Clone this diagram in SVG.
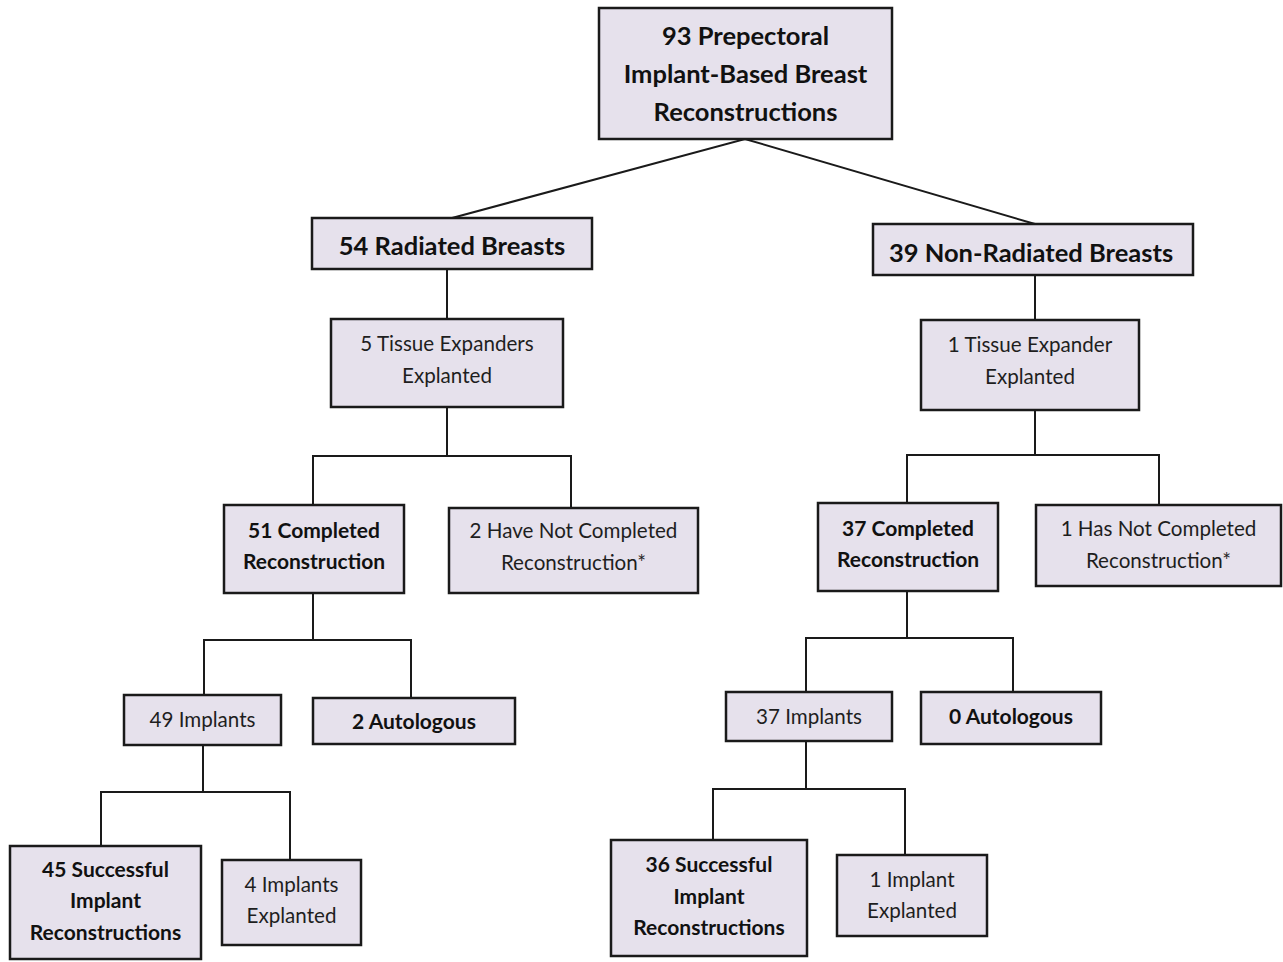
<svg xmlns="http://www.w3.org/2000/svg" width="1283" height="962" viewBox="0 0 1283 962">
<style>
.box{fill:#e6e1ec;stroke:#1a1a1a;stroke-width:2.5}
.b{font-family:Lato,"Liberation Sans",sans-serif;font-weight:bold;fill:#111;text-anchor:middle}
.r{font-family:Lato,"Liberation Sans",sans-serif;fill:#1e1e1e;text-anchor:middle}
.c{fill:none;stroke:#1a1a1a;stroke-width:2}
</style>
<rect width="1283" height="962" fill="#ffffff"/>
<g id="connectors">
<polyline class="c" points="452,218 745,139 1035,224"/>
<line class="c" x1="447" y1="269" x2="447" y2="319"/>
<line class="c" x1="1035" y1="275" x2="1035" y2="320"/>
<polyline class="c" points="447,407 447,456"/>
<polyline class="c" points="313,505 313,456 571,456 571,508"/>
<polyline class="c" points="1035,410 1035,455"/>
<polyline class="c" points="907,503 907,455 1159,455 1159,505"/>
<polyline class="c" points="313,593 313,640"/>
<polyline class="c" points="204,695 204,640 411,640 411,698"/>
<polyline class="c" points="907,591 907,638"/>
<polyline class="c" points="806,692 806,638 1013,638 1013,692"/>
<polyline class="c" points="203,745 203,792"/>
<polyline class="c" points="101,846 101,792 290,792 290,860"/>
<polyline class="c" points="806,741 806,789"/>
<polyline class="c" points="713,840 713,789 905,789 905,855"/>
</g>
<g id="n-top"><rect class="box" x="599" y="8" width="293" height="131"/>
<text class="b" font-size="25.5" x="745.5" y="45">93 Prepectoral</text>
<text class="b" font-size="25.5" x="745.5" y="83">Implant-Based Breast</text>
<text class="b" font-size="25.5" x="745.5" y="121">Reconstructions</text></g>
<g id="n-rad"><rect class="box" x="312" y="218" width="280" height="51"/>
<text class="b" font-size="25.5" x="452" y="255">54 Radiated Breasts</text></g>
<g id="n-nonrad"><rect class="box" x="873" y="224" width="320" height="51"/>
<text class="b" font-size="25.5" x="1031" y="262">39 Non-Radiated Breasts</text></g>
<g id="n-te5"><rect class="box" x="331" y="319" width="232" height="88"/>
<text class="r" font-size="20.6" x="447" y="351">5 Tissue Expanders</text>
<text class="r" font-size="20.6" x="447" y="383">Explanted</text></g>
<g id="n-te1"><rect class="box" x="921" y="320" width="218" height="90"/>
<text class="r" font-size="20.6" x="1030" y="352">1 Tissue Expander</text>
<text class="r" font-size="20.6" x="1030" y="384">Explanted</text></g>
<g id="n-c51"><rect class="box" x="224" y="505" width="180" height="88"/>
<text class="b" font-size="21" x="314" y="538">51 Completed</text>
<text class="b" font-size="21" x="314" y="569">Reconstruction</text></g>
<g id="n-nc2"><rect class="box" x="449" y="508" width="249" height="85"/>
<text class="r" font-size="20.6" x="573.5" y="538">2 Have Not Completed</text>
<text class="r" font-size="20.6" x="573.5" y="570">Reconstruction*</text></g>
<g id="n-c37"><rect class="box" x="818" y="503" width="180" height="88"/>
<text class="b" font-size="21" x="908" y="536">37 Completed</text>
<text class="b" font-size="21" x="908" y="567">Reconstruction</text></g>
<g id="n-nc1"><rect class="box" x="1036" y="505" width="245" height="81"/>
<text class="r" font-size="20.6" x="1158.5" y="536">1 Has Not Completed</text>
<text class="r" font-size="20.6" x="1158.5" y="568">Reconstruction*</text></g>
<g id="n-i49"><rect class="box" x="124" y="695" width="157" height="50"/>
<text class="r" font-size="20.6" x="202.5" y="727">49 Implants</text></g>
<g id="n-a2"><rect class="box" x="313" y="698" width="202" height="46"/>
<text class="b" font-size="21" x="414" y="729">2 Autologous</text></g>
<g id="n-i37"><rect class="box" x="726" y="692" width="166" height="49"/>
<text class="r" font-size="20.6" x="809" y="724">37 Implants</text></g>
<g id="n-a0"><rect class="box" x="921" y="692" width="180" height="52"/>
<text class="b" font-size="21" x="1011" y="724">0 Autologous</text></g>
<g id="n-s45"><rect class="box" x="10" y="846" width="191" height="113"/>
<text class="b" font-size="21" x="105.5" y="877">45 Successful</text>
<text class="b" font-size="21" x="105.5" y="908">Implant</text>
<text class="b" font-size="21" x="105.5" y="940">Reconstructions</text></g>
<g id="n-e4"><rect class="box" x="222" y="860" width="139" height="85"/>
<text class="r" font-size="20.6" x="291.5" y="892">4 Implants</text>
<text class="r" font-size="20.6" x="291.5" y="923">Explanted</text></g>
<g id="n-s36"><rect class="box" x="611" y="840" width="196" height="116"/>
<text class="b" font-size="21" x="709" y="872">36 Successful</text>
<text class="b" font-size="21" x="709" y="904">Implant</text>
<text class="b" font-size="21" x="709" y="935">Reconstructions</text></g>
<g id="n-e1"><rect class="box" x="837" y="855" width="150" height="81"/>
<text class="r" font-size="20.6" x="912" y="887">1 Implant</text>
<text class="r" font-size="20.6" x="912" y="918">Explanted</text></g>
</svg>
